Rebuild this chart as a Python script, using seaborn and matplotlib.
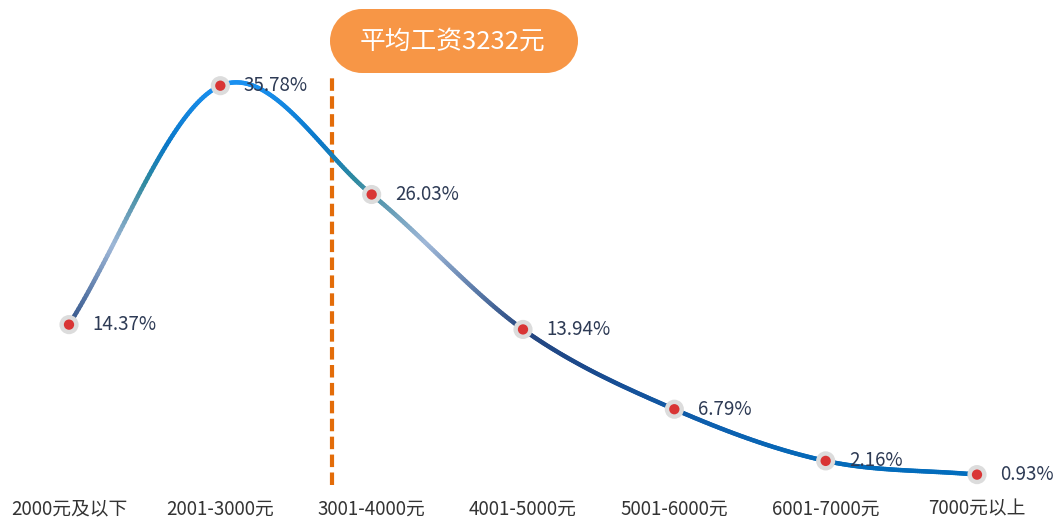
import numpy as np
import matplotlib
matplotlib.use("Agg")
import matplotlib.pyplot as plt
import seaborn as sns
from matplotlib.collections import LineCollection
from matplotlib.colors import LinearSegmentedColormap
from matplotlib.patches import Rectangle, Circle
from matplotlib.transforms import IdentityTransform

categories = ["2000元及以下", "2001-3000元", "3001-4000元", "4001-5000元",
              "5001-6000元", "6001-7000元", "7000元以上"]
values = [14.37, 35.78, 26.03, 13.94, 6.79, 2.16, 0.93]
value_labels = ["14.37%", "35.78%", "26.03%", "13.94%", "6.79%", "2.16%", "0.93%"]
avg_label = "平均工资3232元"
avg_position = 1.74  # position of the average on the category axis

sns.set_theme(style="white")
plt.rcParams['font.family'] = ['Noto Sans CJK SC', 'DejaVu Sans']

W, H = 1056, 525
fig = plt.figure(figsize=(W / 100, H / 100), dpi=100)
ax = fig.add_axes([0, 40 / H, 1, 1 - 40 / H])
ax.set_xlim(-69 / 151.33, 6 + 79 / 151.33)
ax.set_ylim(0, (H - 40) / 11.16)
sns.despine(ax=ax, left=True, bottom=True)
ax.set_yticks([])

x = np.arange(len(values), dtype=float)
y = np.array(values, dtype=float)

# Catmull-Rom smoothing for the drawn curve
px = np.concatenate([[2 * x[0] - x[1]], x, [2 * x[-1] - x[-2]]])
py = np.concatenate([[2 * y[0] - y[1]], y, [2 * y[-1] - y[-2]]])
xs, ys = [], []
t = np.linspace(0, 1, 80)
for i in range(1, len(px) - 2):
    p0, p1, p2, p3 = px[i - 1], px[i], px[i + 1], px[i + 2]
    q0, q1, q2, q3 = py[i - 1], py[i], py[i + 1], py[i + 2]
    cx = 0.5 * ((2 * p1) + (-p0 + p2) * t + (2 * p0 - 5 * p1 + 4 * p2 - p3) * t**2 + (-p0 + 3 * p1 - 3 * p2 + p3) * t**3)
    cy = 0.5 * ((2 * q1) + (-q0 + q2) * t + (2 * q0 - 5 * q1 + 4 * q2 - q3) * t**2 + (-q0 + 3 * q1 - 3 * q2 + q3) * t**3)
    xs.append(cx if i == 1 else cx[1:])
    ys.append(cy if i == 1 else cy[1:])
xs = np.concatenate(xs)
ys = np.concatenate(ys)

# vertical gradient colour map (by value)
cmap = LinearSegmentedColormap.from_list("grad", [
    (0.0, "#0070c0"),
    (0.15, "#0d5fae"),
    (0.28, "#1a4a8e"),
    (0.38, "#26467f"),
    (0.48, "#5a7aa8"),
    (0.60, "#a0b8d8"),
    (0.70, "#5a98b0"),
    (0.76, "#2e8aa0"),
    (0.85, "#0a78c8"),
    (1.0, "#1a90f0"),
])
pts = np.array([xs, ys]).T.reshape(-1, 1, 2)
segs = np.concatenate([pts[:-1], pts[1:]], axis=1)
mid = (ys[:-1] + ys[1:]) / 2
lc = LineCollection(segs, cmap=cmap, norm=plt.Normalize(0, 36), linewidths=3.2, capstyle="round", zorder=3)
lc.set_array(mid)
ax.add_collection(lc)

sns.scatterplot(x=x, y=y, ax=ax, s=190, color="#dcdcdc", edgecolor="none", zorder=4, legend=False)
sns.scatterplot(x=x, y=y, ax=ax, s=55, color="#d93535", edgecolor="none", zorder=5, legend=False)

for xi, yi, lab in zip(x, y, value_labels):
    ax.annotate(lab, (xi, yi), xytext=(17, 0), textcoords="offset points",
                ha="left", va="center", fontsize=13.5, color="#2e3b55", zorder=6)

ax.set_xticks(x)
ax.set_xticklabels(categories, fontsize=13.5, color="#333333")
ax.tick_params(axis="x", length=0, pad=10)

# average dashed line
ax.plot([avg_position, avg_position], [0, (H - 75 - 40) / 11.16], color="#e36c09",
        lw=3, ls=(0, (3, 1.3)), zorder=2)

# pill label (pixel coordinates, origin bottom-left)
pill_color = "#f79646"
r = 32
x0, x1, yc = 330 + r, 578 - r, H - 41
fig.patches.append(Rectangle((x0, yc - r), x1 - x0, 2 * r, transform=IdentityTransform(),
                             facecolor=pill_color, edgecolor="none"))
for cxp in (x0, x1):
    fig.patches.append(Circle((cxp, yc), r, transform=IdentityTransform(),
                              facecolor=pill_color, edgecolor="none"))
fig.text(453 / W, 1 - 42 / H, avg_label, ha="center", va="center", fontsize=18.5, color="white")

fig.savefig("out.png", dpi=100)
